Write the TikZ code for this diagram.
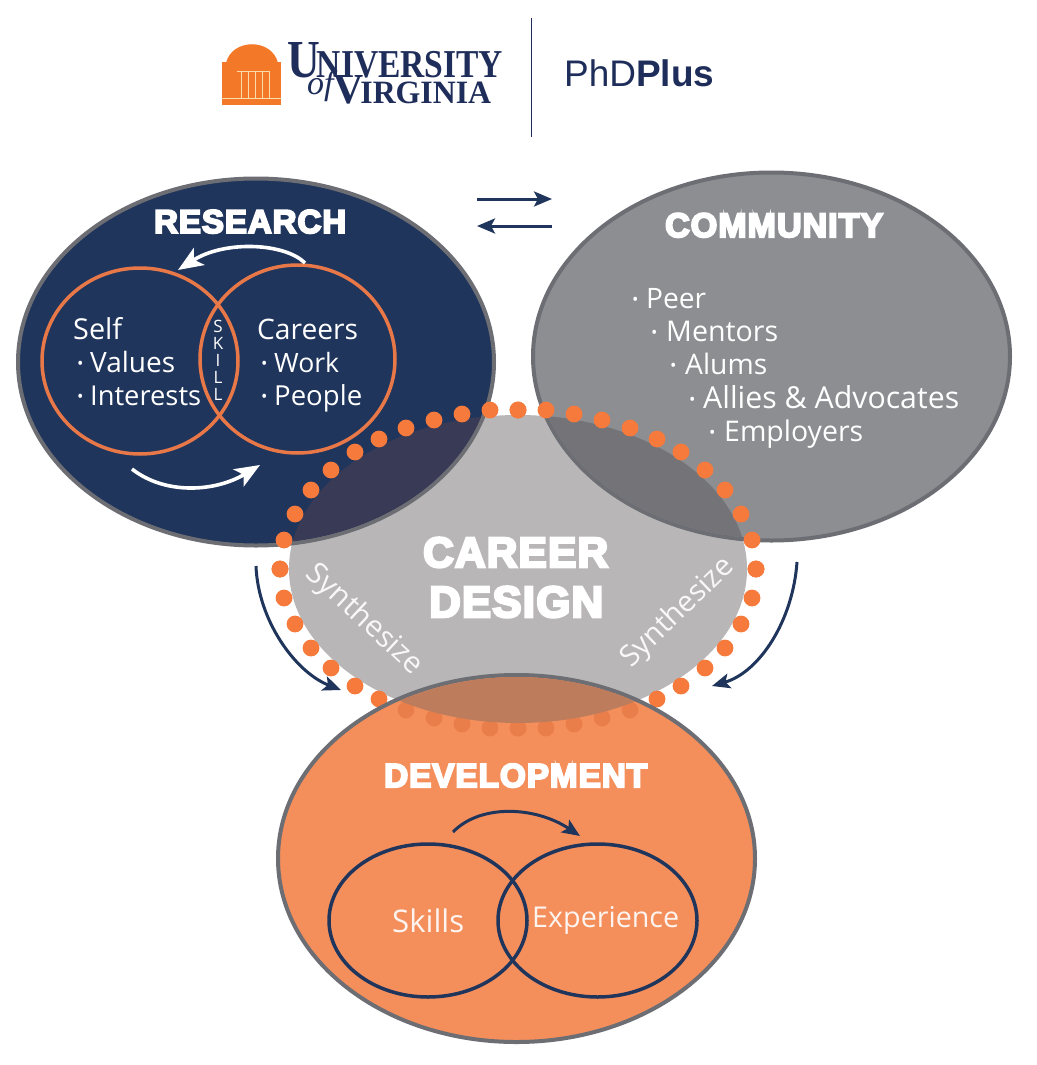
\documentclass[tikz,border=0pt]{standalone}
\usepackage{fontspec}
\usepackage{graphicx}
\usetikzlibrary{shapes.geometric,arrows.meta}
\setmainfont{Open Sans}
\newfontfamily\heavyf[BoldFeatures={FakeBold=6}]{Liberation Sans}
\newfontfamily\uvaf{Liberation Serif}
\newfontfamily\phdf{Liberation Sans}
\definecolor{navy}{RGB}{32,53,92}
\definecolor{logonavy}{RGB}{30,45,90}
\definecolor{commgray}{RGB}{140,142,146}
\definecolor{ringgray}{RGB}{108,110,116}
\definecolor{careergray}{RGB}{184,182,183}
\definecolor{lensnavy}{RGB}{57,58,85}
\definecolor{lensgray}{RGB}{115,115,120}
\definecolor{devorange}{RGB}{244,143,92}
\definecolor{dotorange}{RGB}{245,122,60}
\definecolor{dotdim}{RGB}{234,126,74}
\definecolor{lensorange}{RGB}{189,125,93}
\definecolor{vennorange}{RGB}{232,120,72}
\definecolor{logoorange}{RGB}{243,120,40}
\definecolor{cream}{RGB}{250,220,170}
\newcommand{\head}[2]{\resizebox{#1pt}{!}{\fontsize{34}{34}\selectfont\heavyf\bfseries\addfontfeature{LetterSpace=3} #2}}
\newcommand{\body}[2]{\resizebox{#1pt}{!}{\fontsize{26}{26}\selectfont #2}}
\newcommand{\bul}[1]{\makebox[#1pt][l]{\raisebox{2.5pt}{\fontsize{17}{17}\selectfont •}}}
\newcommand{\alldots}[1]{%
  \foreach \dx/\dy in {0/159,28/159,56/155,84/149,112/141,139/130,163/117,187/99,207/79,223/55,234/29,238/0}{%
    \fill[#1] (518+\dx,569-\dy) circle[radius=8.4pt];
    \fill[#1] (518-\dx,569-\dy) circle[radius=8.4pt];
    \fill[#1] (518+\dx,569+\dy) circle[radius=8.4pt];
    \fill[#1] (518-\dx,569+\dy) circle[radius=8.4pt];
  }}
\tikzset{
  bigell/.style={ellipse,inner sep=0pt,line width=4pt,draw=ringgray},
  venn/.style={ellipse,inner sep=0pt,draw,line width=3.5pt,fill=none},
  txt/.style={inner sep=0pt,anchor=base west,text=white},
  flow/.style={line width=3pt,-{Stealth[length=18pt,width=15pt,inset=4pt]}},
  whiteflow/.style={line width=3.6pt,white,-{Stealth[length=25pt,width=20pt,inset=6pt]}},
  logotext/.style={inner sep=0pt,anchor=base west,text=logonavy}
}
\begin{document}
\begin{tikzpicture}[x=1pt,y=-1pt]
\useasboundingbox (0,0) rectangle (1036,1065);
\fill[white] (0,0) rectangle (1036,1065);
% career base
\fill[careergray] (518,569) ellipse[x radius=229pt,y radius=154pt];
% research + community
\node[bigell,fill=navy,minimum width=476pt,minimum height=367pt] (research) at (256,362) {};
\node[bigell,fill=commgray,minimum width=477pt,minimum height=368pt] (community) at (771.5,356.5) {};
\begin{scope}
  \clip (518,569) ellipse[x radius=229pt,y radius=154pt];
  \fill[lensnavy] (256,362) ellipse[x radius=236pt,y radius=181.5pt];
  \fill[lensgray] (771.5,356.5) ellipse[x radius=236.5pt,y radius=182pt];
\end{scope}
\alldots{dotorange}
% development
\node[bigell,fill=devorange,minimum width=477pt,minimum height=367pt] (development) at (516.5,858.5) {};
\begin{scope}
  \clip (516.5,858.5) ellipse[x radius=236.5pt,y radius=181.5pt];
  \alldots{dotdim}
  \fill[lensorange] (518,569) ellipse[x radius=229pt,y radius=154pt];
\end{scope}
% venns
\node[venn,draw=vennorange,minimum width=196pt,minimum height=186pt] (self) at (140,361) {};
\node[venn,draw=vennorange,minimum width=195pt,minimum height=188pt] (careers) at (297.5,359) {};
\node[venn,draw=navy,minimum width=198pt,minimum height=153pt] (skills) at (428,920.5) {};
\node[venn,draw=navy,minimum width=199pt,minimum height=153pt] (experience) at (597.5,920.5) {};
% arrows
\coordinate (wa) at (305,263); \coordinate (wb) at (178,270);
\coordinate (wc) at (132,469); \coordinate (wd) at (260,465);
\draw[whiteflow] (wa) .. controls (285,243) and (225,240) .. (wb);
\draw[whiteflow] (wc) .. controls (165,495) and (215,492) .. (wd);
\coordinate (da) at (453,832); \coordinate (db) at (580,836);
\draw[flow,navy] (da) .. controls (480,804) and (535,806) .. (db);
\coordinate (la) at (256,566); \coordinate (lb) at (341,690);
\draw[flow,navy] (la) .. controls (258,620) and (295,672) .. (lb);
\coordinate (ra) at (797,562); \coordinate (rb) at (712,686);
\draw[flow,navy] (ra) .. controls (793,620) and (760,672) .. (rb);
\coordinate (ta) at (477,199); \coordinate (tb) at (552,199);
\coordinate (tc) at (552,226); \coordinate (td) at (477,226);
\draw[flow,navy] (ta) -- (tb);
\draw[flow,navy] (tc) -- (td);
% headings
\node[txt] (hres) at (154,233) {\head{192}{RESEARCH}};
\node[txt] (hcom) at (665,237) {\head{218}{COMMUNITY}};
\node[txt] (hdev) at (384,787) {\head{263}{DEVELOPMENT}};
\node[txt] (hcar) at (423,567) {\resizebox{185pt}{!}{\fontsize{44}{44}\selectfont\heavyf\bfseries\addfontfeature{LetterSpace=3} CAREER}};
\node[txt] (hdes) at (429,617) {\resizebox{174pt}{!}{\fontsize{44}{44}\selectfont\heavyf\bfseries\addfontfeature{LetterSpace=3} DESIGN}};
% research text
\node[txt] (tself) at (73,339) {\body{49}{Self}};
\node[txt] (tval) at (77,372) {\bul{13}\body{85}{Values}};
\node[txt] (tint) at (77,405) {\bul{13}\body{111}{Interests}};
\node[txt] (tcar) at (257,339) {\body{101}{Careers}};
\node[txt] (twork) at (261,372) {\bul{13}\body{65}{Work}};
\node[txt] (tpeo) at (261,405) {\bul{13}\body{88}{People}};
\foreach \n/\l/\yy in {s1/S/332,s2/K/349,s3/I/366,s4/L/383,s5/L/400}{
  \node[inner sep=0pt,anchor=base,text=white,font=\fontsize{17}{17}\selectfont] (\n) at (218,\yy) {\l};
}
% community text
\node[txt] (cpeer) at (632,308) {\bul{14}\body{60}{Peer}};
\node[txt] (cment) at (651,341) {\bul{15}\body{112}{Mentors}};
\node[txt] (calum) at (670,374) {\bul{15}\body{82}{Alums}};
\node[txt] (calli) at (689,408) {\bul{14}\body{256}{Allies \& Advocates}};
\node[txt] (cempl) at (709,441) {\bul{15}\body{139}{Employers}};
% development text
\node[txt,text=white!90!devorange] (tsk) at (392,932) {\body{72}{Skills}};
\node[txt,text=white!90!devorange] (tex) at (532,927) {\body{147}{Experience}};
% synthesize
\node[inner sep=0pt,text=white!90!careergray,rotate=-43] (synl) at (364,620) {\body{147}{Synthesize}};
\node[inner sep=0pt,text=white!90!careergray,rotate=44] (synr) at (678,613) {\body{145}{Synthesize}};
% logo
\fill[logoorange] (222,62) rectangle (281,105);
\fill[logoorange] (226,63) .. controls (232,38) and (272,38) .. (278,63) -- cycle;
\draw[cream,line width=.8pt] (237,71) -- (269,71);
\foreach \xx in {241,248,255,262,269}{\draw[cream,line width=.8pt] (\xx,71) -- (\xx,98);}
\draw[cream,line width=.8pt] (222,98) -- (281,98);
\node[logotext] (uni) at (287,77) {\resizebox{216pt}{35pt}{\uvaf\bfseries{\fontsize{46}{46}\selectfont U}{\fontsize{34}{34}\selectfont\kern-3pt NIVERSITY}}};
\node[logotext] (vir) at (333,103) {\resizebox{158pt}{28pt}{\uvaf\bfseries{\fontsize{42}{42}\selectfont V}{\fontsize{32}{32}\selectfont\kern-3pt IRGINIA}}};
\node[logotext,font=\uvaf\itshape\fontsize{34}{34}\selectfont] (ofw) at (307,94) {of};
\coordinate (sepa) at (531,18); \coordinate (sepb) at (531,137);
\draw[logonavy,line width=1pt] (sepa) -- (sepb);
\node[logotext] (phd) at (564,87) {\resizebox{150pt}{!}{\fontsize{37}{37}\selectfont\phdf PhD\textbf{Plus}}};
\end{tikzpicture}
\end{document}
